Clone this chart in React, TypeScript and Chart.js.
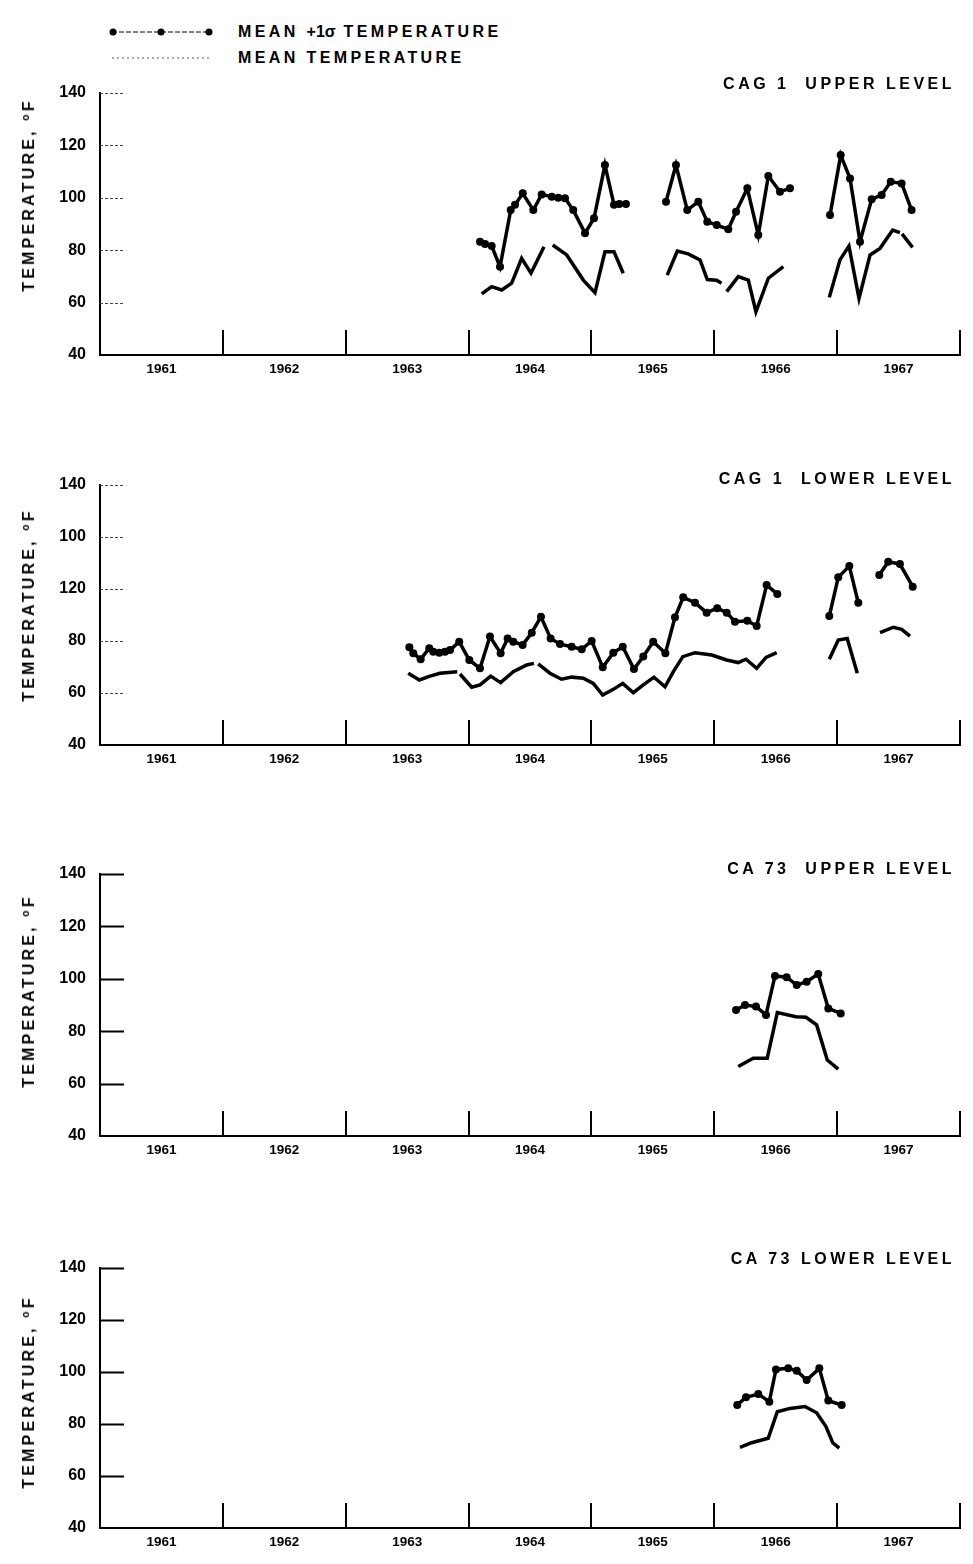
import React, { useEffect, useRef } from "react";
import { Chart, registerables } from "chart.js";

Chart.register(...registerables);

// ---------- DATA ----------
const YEAR_LABELS = ["1961", "1962", "1963", "1964", "1965", "1966", "1967"];
const YEAR_CENTERS = [1961.5, 1962.5, 1963.5, 1964.5, 1965.5, 1966.5, 1967.5];
const YEAR_BOUNDS = [1962, 1963, 1964, 1965, 1966, 1967, 1968];
const Y_GRID_VALUES = [60, 80, 100, 120, 140];
const Y_LABELS_STD = ["40", "60", "80", "100", "120", "140"];
const Y_LABELS_P2 = ["40", "60", "80", "120", "100", "140"];

// CAG 1 upper level
const P1_UPPER_X = [1964.093, 1964.134, 1964.188, 1964.256, 1964.343, 1964.378, 1964.441, 1964.527, 1964.595, 1964.677, 1964.73, 1964.785, 1964.852, 1964.948, 1965.021, 1965.11, 1965.184, 1965.227, 1965.281, null,
  1965.607, 1965.688, 1965.78, 1965.87, 1965.943, 1966.02, 1966.114, 1966.177, 1966.269, 1966.358, 1966.44, 1966.535, 1966.616, null,
  1966.942, 1967.029, 1967.105, 1967.186, 1967.281, 1967.362, 1967.436, 1967.525, 1967.606];
const P1_UPPER_Y = [83.2, 82.4, 81.6, 73.7, 95.3, 97.3, 101.7, 95.3, 101.3, 100.4, 100.0, 99.8, 95.3, 86.5, 92.2, 112.5, 97.3, 97.6, 97.6, null,
  98.5, 112.5, 95.3, 98.5, 90.9, 89.6, 88.0, 94.7, 103.6, 85.8, 108.3, 102.3, 103.6, null,
  93.4, 116.3, 107.4, 83.2, 99.4, 101.1, 106.1, 105.5, 95.3];
const P1_MEAN_X = [1964.107, 1964.188, 1964.27, 1964.351, 1964.432, 1964.508, 1964.614, null,
  1964.685, 1964.799, 1964.934, 1965.029, 1965.11, 1965.184, 1965.259, null,
  1965.617, 1965.699, 1965.788, 1965.884, 1965.943, 1966.019, 1966.059, null,
  1966.101, 1966.195, 1966.277, 1966.339, 1966.44, 1966.562, null,
  1966.936, 1967.023, 1967.096, 1967.178, 1967.268, 1967.349, 1967.452, 1967.511, null,
  1967.528, 1967.614];
const P1_MEAN_Y = [63.3, 66.1, 64.8, 67.4, 76.9, 71.2, 81.3, null,
  82.0, 78.2, 68.6, 63.8, 79.4, 79.4, 71.2, null,
  70.5, 79.7, 78.6, 76.3, 68.8, 68.5, 67.4, null,
  64.2, 69.9, 68.6, 56.5, 69.3, 73.7, null,
  62.0, 76.3, 81.6, 61.6, 78.2, 80.7, 87.7, 86.7, null,
  86.2, 81.1];

// CAG 1 lower level
const P2_UPPER_X = [1963.518, 1963.55, 1963.61, 1963.68, 1963.713, 1963.762, 1963.808, 1963.849, 1963.924, 1964.006, 1964.093, 1964.174, 1964.261, 1964.318, 1964.364, 1964.44, 1964.514, 1964.589, 1964.668, 1964.744, 1964.839, 1964.921, 1965.002, 1965.092, 1965.178, 1965.255, 1965.346, 1965.422, 1965.503, 1965.602, 1965.68, 1965.747, 1965.843, 1965.938, 1966.024, 1966.101, 1966.168, 1966.269, 1966.345, 1966.426, 1966.513, null,
  1966.936, 1967.009, 1967.099, 1967.172, null,
  1967.343, 1967.416, 1967.511, 1967.615];
const P2_UPPER_Y = [77.6, 75.3, 73.0, 77.2, 75.9, 75.5, 75.9, 76.5, 79.7, 72.7, 69.5, 81.7, 75.3, 81.0, 79.7, 78.5, 83.2, 89.3, 81.0, 78.8, 77.8, 76.8, 80.0, 69.9, 75.5, 77.8, 69.2, 74.0, 79.7, 75.3, 89.1, 96.8, 94.7, 90.9, 92.6, 90.9, 87.4, 87.8, 85.8, 101.5, 98.1, null,
  89.6, 104.5, 108.8, 94.7, null,
  105.4, 110.5, 109.6, 100.9];
const P2_MEAN_X = [1963.509, 1963.599, 1963.686, 1963.767, 1963.908, null,
  1963.93, 1964.025, 1964.093, 1964.18, 1964.261, 1964.364, 1964.473, 1964.532, null,
  1964.567, 1964.662, 1964.757, 1964.839, 1964.934, 1965.015, 1965.092, 1965.178, 1965.255, 1965.341, 1965.422, 1965.509, 1965.599, 1965.667, 1965.744, 1965.843, 1965.979, 1966.101, 1966.195, 1966.258, 1966.345, 1966.421, 1966.508, null,
  1966.936, 1967.009, 1967.082, 1967.164, null,
  1967.349, 1967.457, 1967.525, 1967.593];
const P2_MEAN_Y = [67.6, 65.0, 66.5, 67.6, 68.2, null,
  67.3, 62.2, 63.1, 66.5, 64.0, 68.2, 70.8, 71.4, null,
  71.2, 67.6, 65.3, 66.1, 65.7, 63.7, 59.2, 61.4, 63.7, 60.1, 63.1, 66.1, 62.4, 68.2, 74.0, 75.5, 74.6, 72.7, 71.7, 73.0, 69.5, 73.7, 75.5, null,
  73.0, 80.4, 81.0, 67.6, null,
  83.2, 85.3, 84.5, 81.9];

// CA 73 upper level
const P3_UPPER_X = [1966.177, 1966.25, 1966.339, 1966.421, 1966.494, 1966.589, 1966.671, 1966.752, 1966.846, 1966.928, 1967.029];
const P3_UPPER_Y = [88.1, 90.0, 89.4, 86.2, 101.1, 100.6, 97.6, 98.9, 101.8, 88.7, 86.8];
const P3_MEAN_X = [1966.195, 1966.317, 1966.431, 1966.513, 1966.665, 1966.746, 1966.833, 1966.92, 1967.009];
const P3_MEAN_Y = [66.5, 69.7, 69.7, 87.1, 85.5, 85.3, 82.4, 69.0, 65.5];

// CA 73 lower level
const P4_UPPER_X = [1966.187, 1966.258, 1966.358, 1966.448, 1966.502, 1966.602, 1966.671, 1966.752, 1966.855, 1966.928, 1967.037];
const P4_UPPER_Y = [87.3, 90.3, 91.5, 88.6, 101.0, 101.4, 100.5, 96.9, 101.4, 89.0, 87.3];
const P4_MEAN_X = [1966.209, 1966.304, 1966.439, 1966.513, 1966.616, 1966.738, 1966.833, 1966.909, 1966.964, 1967.017];
const P4_MEAN_Y = [71.0, 72.8, 74.5, 84.7, 86.0, 86.7, 84.3, 79.0, 72.8, 70.7];

// ---------- LAYOUT ----------
const FONT = "'Liberation Sans', Arial, Helvetica, sans-serif";

type PanelCfg = {
  title: string;
  top: number;
  height: number;
  titleY: number;
  yTitleY: number;
  yLabels: string[];
  ux: (number | null)[];
  uy: (number | null)[];
  mx: (number | null)[];
  my: (number | null)[];
  faint: boolean;
  axisDash: number[];
};

const PANELS: PanelCfg[] = [
  { title: "CAG 1  UPPER LEVEL", top: 93, height: 262, titleY: 84, yTitleY: 195, yLabels: Y_LABELS_STD, ux: P1_UPPER_X, uy: P1_UPPER_Y, mx: P1_MEAN_X, my: P1_MEAN_Y, faint: true, axisDash: [3, 3] },
  { title: "CAG 1  LOWER LEVEL", top: 485, height: 260, titleY: 479, yTitleY: 605, yLabels: Y_LABELS_P2, ux: P2_UPPER_X, uy: P2_UPPER_Y, mx: P2_MEAN_X, my: P2_MEAN_Y, faint: true, axisDash: [16, 3] },
  { title: "CA 73  UPPER LEVEL", top: 874, height: 262, titleY: 869, yTitleY: 991, yLabels: Y_LABELS_STD, ux: P3_UPPER_X, uy: P3_UPPER_Y, mx: P3_MEAN_X, my: P3_MEAN_Y, faint: false, axisDash: [] },
  { title: "CA 73 LOWER LEVEL", top: 1268, height: 260, titleY: 1259, yTitleY: 1392, yLabels: Y_LABELS_STD, ux: P4_UPPER_X, uy: P4_UPPER_Y, mx: P4_MEAN_X, my: P4_MEAN_Y, faint: false, axisDash: [] },
];

const PAD_TOP = 30;
const X_AXIS_H = 30;

const zip = (xs: (number | null)[], ys: (number | null)[]) =>
  xs.map((x, i) => ({ x: x as any, y: ys[i] as any }));

const innerTicks = {
  id: "innerTicks",
  beforeDatasetsDraw(chart: any, _args: any, opts: any) {
    const { ctx, chartArea, scales } = chart;
    const xs = scales.x;
    const ys = scales.y;
    ctx.save();
    ctx.strokeStyle = opts.faint ? "#444" : "#000";
    ctx.lineWidth = opts.faint ? 1.2 : 2;
    ctx.setLineDash(opts.faint ? [3, 2] : []);
    for (const v of Y_GRID_VALUES) {
      const y = Math.round(ys.getPixelForValue(v)) + 0.5;
      ctx.beginPath();
      ctx.moveTo(chartArea.left, y);
      ctx.lineTo(chartArea.left + 24, y);
      ctx.stroke();
    }
    ctx.setLineDash([]);
    ctx.strokeStyle = "#000";
    ctx.lineWidth = 2;
    for (const v of YEAR_BOUNDS) {
      const x = Math.round(xs.getPixelForValue(v));
      ctx.beginPath();
      ctx.moveTo(x, chartArea.bottom);
      ctx.lineTo(x, chartArea.bottom - 25);
      ctx.stroke();
    }
    ctx.restore();
  },
};

function Panel({ cfg }: { cfg: PanelCfg }) {
  const ref = useRef<HTMLCanvasElement | null>(null);
  useEffect(() => {
    if (!ref.current) return;
    const chart = new Chart(ref.current, {
      type: "line",
      data: {
        datasets: [
          {
            label: "MEAN +1σ TEMPERATURE",
            data: zip(cfg.ux, cfg.uy),
            borderColor: "#000",
            backgroundColor: "#000",
            borderWidth: 3.5,
            pointRadius: 4,
            pointBackgroundColor: "#000",
            pointBorderWidth: 0,
            tension: 0,
            spanGaps: false,
          },
          {
            label: "MEAN TEMPERATURE",
            data: zip(cfg.mx, cfg.my),
            borderColor: "#000",
            backgroundColor: "#000",
            borderWidth: 3.5,
            pointRadius: 0,
            tension: 0,
            spanGaps: false,
          },
        ],
      },
      options: {
        animation: false,
        responsive: true,
        maintainAspectRatio: false,
        layout: { padding: { left: 0, right: 13, top: PAD_TOP, bottom: 0 } },
        plugins: {
          legend: { display: false },
          tooltip: { enabled: false },
          innerTicks: { faint: cfg.faint },
        } as any,
        scales: {
          x: {
            type: "linear",
            min: 1961,
            max: 1968,
            grid: { display: false, drawTicks: false },
            border: { display: true, color: "#000", width: 2, dash: cfg.axisDash },
            afterBuildTicks: (scale: any) => {
              scale.ticks = YEAR_CENTERS.map((v) => ({ value: v }));
            },
            afterFit: (scale: any) => {
              scale.height = X_AXIS_H;
            },
            ticks: {
              autoSkip: false,
              maxRotation: 0,
              padding: 6,
              color: "#000",
              font: { family: FONT, size: 13.5, weight: "bold" },
              callback: (v: any) => {
                const i = YEAR_CENTERS.indexOf(Number(v));
                return i >= 0 ? YEAR_LABELS[i] : "";
              },
            },
          },
          y: {
            type: "linear",
            min: 40,
            max: 140,
            grid: { display: false, drawTicks: false },
            border: { display: true, color: "#000", width: 2 },
            afterFit: (scale: any) => {
              scale.width = 100;
            },
            ticks: {
              stepSize: 20,
              padding: 14,
              color: "#000",
              font: { family: FONT, size: 16, weight: "bold" },
              callback: (_v: any, i: number) => cfg.yLabels[i] ?? "",
            },
          },
        },
      } as any,
      plugins: [innerTicks as any],
    });
    return () => chart.destroy();
  }, [cfg]);

  return (
    <>
      <div
        style={{
          position: "absolute",
          left: 0,
          top: cfg.top - PAD_TOP,
          width: 973,
          height: PAD_TOP + cfg.height + X_AXIS_H,
        }}
      >
        <canvas ref={ref} />
      </div>
      <div
        style={{
          position: "absolute",
          right: 18,
          top: cfg.titleY - 9,
          fontFamily: FONT,
          fontWeight: "bold",
          fontSize: 16,
          lineHeight: "18px",
          letterSpacing: "3.5px",
          whiteSpace: "pre",
          color: "#000",
        }}
      >
        {cfg.title}
      </div>
      <div
        style={{
          position: "absolute",
          left: 27,
          top: cfg.yTitleY,
          transform: "translate(-50%, -50%) rotate(-90deg)",
          fontFamily: FONT,
          fontWeight: "bold",
          fontSize: 16,
          lineHeight: "17px",
          letterSpacing: "3.2px",
          whiteSpace: "nowrap",
          color: "#000",
        }}
      >
        TEMPERATURE, <sup style={{ fontSize: 10, verticalAlign: "5px" }}>o</sup>F
      </div>
    </>
  );
}

function Legend() {
  const textStyle: React.CSSProperties = {
    position: "absolute",
    left: 238,
    fontFamily: FONT,
    fontWeight: "bold",
    fontSize: 16,
    lineHeight: "18px",
    letterSpacing: "3.4px",
    whiteSpace: "pre",
    color: "#000",
  };
  return (
    <>
      <svg style={{ position: "absolute", left: 0, top: 0 }} width={230} height={70}>
        <line x1={112} y1={32} x2={210} y2={32} stroke="#000" strokeWidth={1} strokeDasharray="5 2" />
        <circle cx={113} cy={32} r={3.5} fill="#000" />
        <circle cx={161} cy={32} r={3.5} fill="#000" />
        <circle cx={209} cy={32} r={3.5} fill="#000" />
        <line x1={112} y1={58} x2={210} y2={58} stroke="#555" strokeWidth={1} strokeDasharray="2 3" />
      </svg>
      <div style={{ ...textStyle, top: 23 }}>
        MEAN <span style={{ letterSpacing: "0px" }}>+1σ</span> TEMPERATURE
      </div>
      <div style={{ ...textStyle, top: 49 }}>MEAN TEMPERATURE</div>
    </>
  );
}

export default function App() {
  return (
    <div
      style={{
        position: "absolute",
        left: 0,
        top: 0,
        width: 973,
        height: 1564,
        overflow: "hidden",
        background: "#fff",
      }}
    >
      <Legend />
      {PANELS.map((p, i) => (
        <Panel key={i} cfg={p} />
      ))}
    </div>
  );
}
